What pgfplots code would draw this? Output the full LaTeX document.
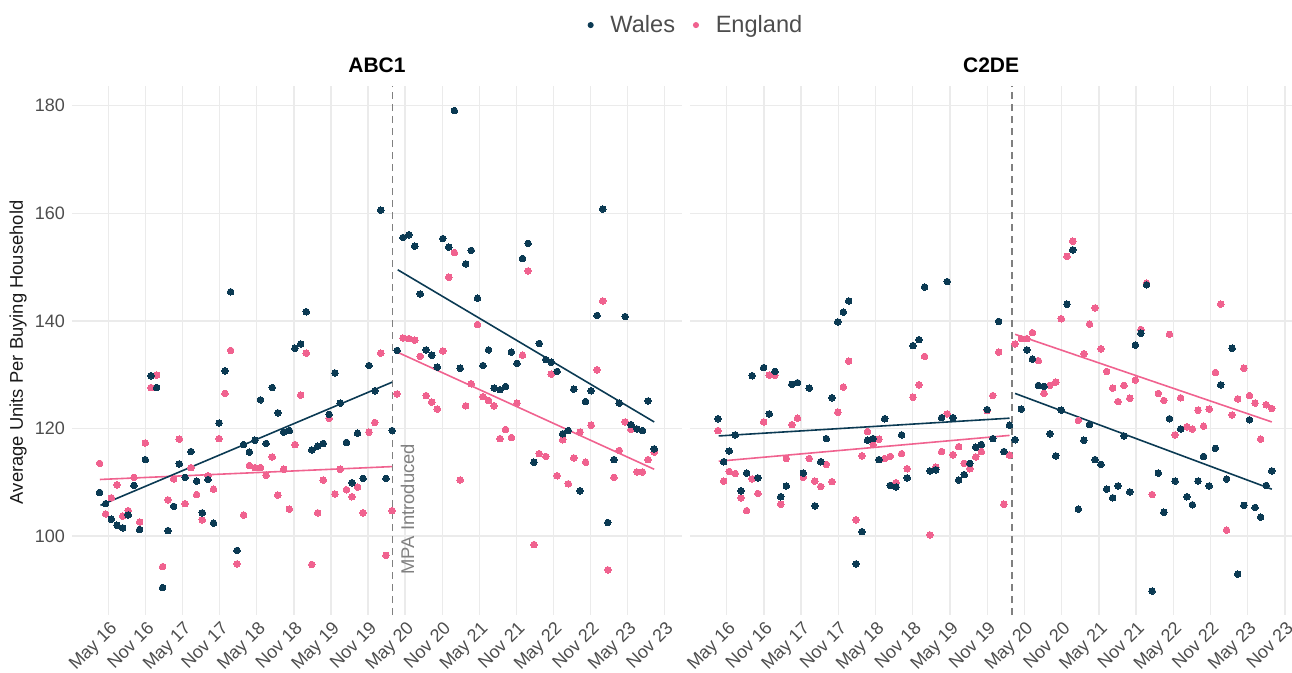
\documentclass[border=0pt]{standalone}
\usepackage{fontspec}
\setmainfont{Liberation Sans}
\usepackage{pgfplots}
\pgfplotsset{compat=1.18}
\usepackage{pgfplotstable}

\definecolor{wales}{HTML}{0B3A53}
\definecolor{england}{HTML}{F0628F}
\definecolor{gridc}{HTML}{EBEBEB}
\definecolor{ticktext}{HTML}{4D4D4D}
\definecolor{mpagray}{HTML}{808080}
\definecolor{labtext}{HTML}{1A1A1A}

% x = months since May 2016 (4-weekly periods), v = average units
\pgfplotstableread{
m v
-1.43 108.1
-0.46 106.0
0.46 103.1
1.38 102.0
2.3 101.5
3.2 103.9
4.13 109.4
5.05 101.2
5.96 114.2
6.88 129.8
7.8 127.6
8.77 90.4
9.63 101.0
10.55 105.5
11.46 113.4
12.4 110.9
13.35 115.7
14.27 110.2
15.18 104.3
16.1 110.5
17.0 102.4
17.9 121.0
18.85 130.7
19.77 145.4
20.8 97.3
21.87 117.0
22.8 115.6
23.7 117.8
24.6 125.3
25.5 117.2
26.5 127.6
27.4 122.9
28.35 119.3
29.26 119.6
30.18 134.9
31.1 135.7
32.0 141.7
32.9 116.0
33.85 116.7
34.76 117.2
35.7 122.6
36.65 130.3
37.5 124.7
38.5 117.4
39.4 109.9
40.3 119.1
41.2 110.7
42.15 131.7
43.1 127.0
44.05 160.6
44.9 110.7
45.9 119.6
46.7 134.5
47.65 155.5
48.6 156.0
49.55 153.9
50.45 145.0
51.4 134.6
52.3 133.6
53.2 131.4
54.1 155.3
55.05 153.7
55.96 179.1
56.9 131.2
57.8 150.6
58.7 153.1
59.7 144.2
60.6 131.7
61.5 134.6
62.4 127.5
63.35 127.2
64.26 127.8
65.2 134.2
66.1 132.1
67.0 151.6
67.9 154.4
68.85 113.7
69.7 135.8
70.75 132.8
71.65 132.3
72.6 130.6
73.5 119.0
74.4 119.6
75.3 127.3
76.3 108.4
77.2 125.0
78.1 127.0
79.05 141.0
79.97 160.8
80.8 102.5
81.8 114.2
82.65 124.7
83.6 140.8
84.55 120.7
85.5 119.9
86.4 119.6
87.3 125.1
88.3 116.2
}\walesA

\pgfplotstableread{
m v
-1.43 113.5
-0.46 104.1
0.46 107.1
1.38 109.5
2.3 103.7
3.2 104.7
4.13 110.9
5.05 102.6
5.96 117.3
6.88 127.6
7.8 129.9
8.77 94.3
9.63 106.7
10.55 110.6
11.46 118.0
12.4 106.0
13.35 112.7
14.27 107.7
15.18 103.0
16.1 111.2
17.0 108.7
17.9 118.1
18.85 126.5
19.77 134.5
20.8 94.8
21.87 103.9
22.8 113.1
23.7 112.7
24.6 112.7
25.5 111.3
26.5 114.7
27.4 107.6
28.35 112.4
29.26 105.0
30.18 117.0
31.1 126.2
32.0 134.0
32.9 94.7
33.85 104.3
34.76 110.4
35.7 121.9
36.65 107.8
37.5 112.4
38.5 108.6
39.4 107.3
40.3 109.1
41.2 104.3
42.15 119.3
43.1 121.1
44.05 134.0
44.9 96.4
45.9 104.7
46.7 126.4
47.65 136.8
48.6 136.7
49.55 136.4
50.45 133.4
51.4 126.1
52.3 124.9
53.2 123.6
54.1 134.4
55.05 148.1
55.96 152.7
56.9 110.4
57.8 124.2
58.7 128.3
59.7 139.3
60.6 125.9
61.5 125.2
62.4 124.2
63.35 118.1
64.26 119.8
65.2 118.3
66.1 124.7
67.0 133.6
67.9 149.3
68.85 98.4
69.7 115.3
70.75 114.8
71.65 130.1
72.6 111.2
73.5 117.9
74.4 109.7
75.3 114.5
76.3 119.3
77.2 113.7
78.1 120.6
79.05 130.9
79.97 143.7
80.8 93.7
81.8 110.9
82.65 115.9
83.6 121.2
84.55 119.8
85.5 111.9
86.4 111.9
87.3 114.2
88.3 115.6
}\englandA

\pgfplotstableread{
m v
-1.42 121.8
-0.5 113.8
0.4 115.8
1.37 118.8
2.29 108.4
3.2 111.7
4.1 129.8
5.03 110.8
5.95 131.3
6.85 122.7
7.77 130.6
8.7 107.3
9.6 109.3
10.5 128.2
11.4 128.5
12.34 111.7
13.3 127.5
14.2 105.6
15.15 113.8
16.05 118.1
16.97 125.7
17.9 139.8
18.8 141.6
19.66 143.7
20.84 94.8
21.8 100.8
22.7 117.8
23.6 118.1
24.55 114.2
25.47 121.8
26.37 109.4
27.3 109.1
28.2 118.8
29.1 110.8
30.03 135.4
31.0 136.5
31.9 146.3
32.77 112.1
33.7 112.3
34.66 122.0
35.56 147.3
36.48 122.0
37.4 110.4
38.3 111.4
39.2 113.5
40.15 116.5
41.05 117.0
42.0 123.5
42.9 118.1
43.85 139.9
44.7 115.7
45.6 120.6
46.5 117.9
47.5 123.6
48.4 134.6
49.3 132.9
50.25 128.0
51.16 127.8
52.1 119.0
53.05 114.9
53.95 123.4
54.87 143.1
55.8 153.2
56.7 105.0
57.6 117.8
58.5 120.7
59.4 114.2
60.35 113.3
61.27 108.7
62.24 107.1
63.1 109.3
64.06 118.6
65.0 108.2
65.9 135.5
66.8 137.7
67.7 146.7
68.6 89.75
69.6 111.7
70.5 104.4
71.4 121.8
72.3 110.2
73.2 119.9
74.2 107.3
75.1 105.8
76.0 110.2
76.9 114.8
77.8 109.3
78.8 116.3
79.66 128.1
80.6 110.6
81.5 134.9
82.4 92.9
83.4 105.7
84.3 121.6
85.2 105.3
86.1 103.5
87.0 109.4
87.9 112.1
}\walesB

\pgfplotstableread{
m v
-1.42 119.6
-0.5 110.2
0.4 112.0
1.37 111.6
2.29 107.1
3.2 104.7
4.1 110.6
5.03 107.9
5.95 121.2
6.85 129.9
7.77 129.9
8.7 105.9
9.6 114.4
10.5 120.7
11.4 121.9
12.34 110.9
13.3 114.4
14.2 110.2
15.15 109.2
16.05 113.3
16.97 110.1
17.9 123.0
18.8 127.7
19.66 132.5
20.84 103.0
21.8 114.9
22.7 119.4
23.6 117.0
24.55 118.0
25.47 114.4
26.37 114.8
27.3 109.9
28.2 115.3
29.1 112.5
30.03 125.8
31.0 128.1
31.9 133.4
32.77 100.2
33.7 112.8
34.66 115.7
35.56 122.7
36.48 115.1
37.4 116.6
38.3 113.5
39.2 112.5
40.15 114.7
41.05 115.7
42.0 123.3
42.9 126.1
43.85 134.2
44.7 105.9
45.6 115.0
46.5 135.7
47.5 136.7
48.4 136.7
49.3 137.8
50.25 132.6
51.16 126.5
52.1 128.0
53.05 128.6
53.95 140.4
54.87 152.0
55.8 154.8
56.7 121.5
57.6 133.9
58.5 139.4
59.4 142.4
60.35 134.8
61.27 130.6
62.24 127.5
63.1 125.0
64.06 128.0
65.0 125.6
65.9 129.0
66.8 138.4
67.7 147.0
68.6 107.7
69.6 126.5
70.5 125.2
71.4 137.5
72.3 118.8
73.2 125.7
74.2 120.3
75.1 119.9
76.0 123.4
76.9 120.4
77.8 123.6
78.8 130.4
79.66 143.1
80.6 101.1
81.5 122.5
82.4 125.5
83.4 131.2
84.3 126.1
85.2 124.7
86.1 118.0
87.0 124.4
87.9 123.7
}\englandB

\pgfplotsset{
  panel/.style={
    scale only axis, anchor=north west,
    height=264.3pt,
    ymin=85.3, ymax=183.6,
    xtick={0,6,...,90},
    xticklabels={May 16,Nov 16,May 17,Nov 17,May 18,Nov 18,May 19,Nov 19,May 20,Nov 20,May 21,Nov 21,May 22,Nov 22,May 23,Nov 23},
    ytick={100,120,...,180},
    xmajorgrids, ymajorgrids,
    major grid style={gridc, line width=0.7pt},
    axis line style={draw=none},
    major tick length=0pt,
    tick label style={font=\fontsize{9}{10}\selectfont, text=ticktext},
    xticklabel style={rotate=45, anchor=north east, xshift=1.8pt, yshift=1.5pt},
    /pgf/number format/assume math mode=true,
    title style={font=\fontsize{10.5}{12}\selectfont\bfseries, at={(0.5,1)}, anchor=base, yshift=1pt},
    clip=false,
  },
  pts/.style={only marks, mark=*, mark size=1.65pt, mark options={line width=0pt}},
  reg/.style={line width=0.8pt, forget plot},
}

\begin{document}
\begin{tikzpicture}
\path[use as bounding box] (0pt,0pt) rectangle (646pt,-336.5pt);

\begin{axis}[panel,
  at={(36pt,-43.2pt)}, width=305pt,
  xmin=-5.9, xmax=92.8,
  title={ABC1},
  ylabel={Average Units Per Buying Household},
  ylabel style={at={(axis description cs:-0.0885,0.497)}, anchor=center, font=\fontsize{9.2}{10}\selectfont, text=labtext},
  legend style={at={(axis description cs:1.0246,1.116)}, anchor=center, draw=none, fill=none,
    font=\fontsize{11.8}{13}\selectfont, text=ticktext, legend columns=2,
    /tikz/every odd column/.append style={column sep=6.4pt},
    /tikz/every even column/.append style={column sep=6.9pt}},
]
\addlegendimage{wales, legend image code/.code={\fill[wales] (0cm,0cm) circle (1.3pt);}}
\addlegendentry{Wales}
\addlegendimage{england, legend image code/.code={\fill[england] (0cm,0cm) circle (1.3pt);}}
\addlegendentry{England}
\addplot[mpagray, dash pattern=on 3.5pt off 2.5pt, line width=0.6pt, forget plot] coordinates {(46,85.3) (46,183.6)};
\addplot[pts, england, forget plot] table[x=m, y=v] {\englandA};
\addplot[pts, wales, forget plot] table[x=m, y=v] {\walesA};
\addplot[reg, england] coordinates {(-1.4,110.5) (45.9,112.9)};
\addplot[reg, wales] coordinates {(-1.3,105.7) (45.9,128.6)};
\addplot[reg, england] coordinates {(46.7,134.2) (88.3,112.4)};
\addplot[reg, wales] coordinates {(46.8,149.5) (88.3,121.2)};
\node[rotate=90, anchor=west, text=mpagray, font=\fontsize{9.2}{10}\selectfont, inner sep=0pt] at (axis cs:48.4,92.75) {MPA Introduced};
\end{axis}

\begin{axis}[panel,
  at={(345.1pt,-43.2pt)}, width=300.9pt,
  xmin=-5.9, xmax=91.16,
  title={C2DE},
  yticklabel=\empty,
]
\addplot[mpagray, dash pattern=on 3.5pt off 2.5pt, line width=0.6pt, forget plot] coordinates {(46,85.3) (46,183.6)};
\addplot[pts, england, forget plot] table[x=m, y=v] {\englandB};
\addplot[pts, wales, forget plot] table[x=m, y=v] {\walesB};
\addplot[reg, england] coordinates {(-1.3,113.9) (45.6,118.7)};
\addplot[reg, wales] coordinates {(-1.3,118.6) (45.6,121.9)};
\addplot[reg, england] coordinates {(46.5,137.5) (87.9,121.2)};
\addplot[reg, wales] coordinates {(46.5,126.5) (87.9,108.7)};
\end{axis}
\end{tikzpicture}
\end{document}
